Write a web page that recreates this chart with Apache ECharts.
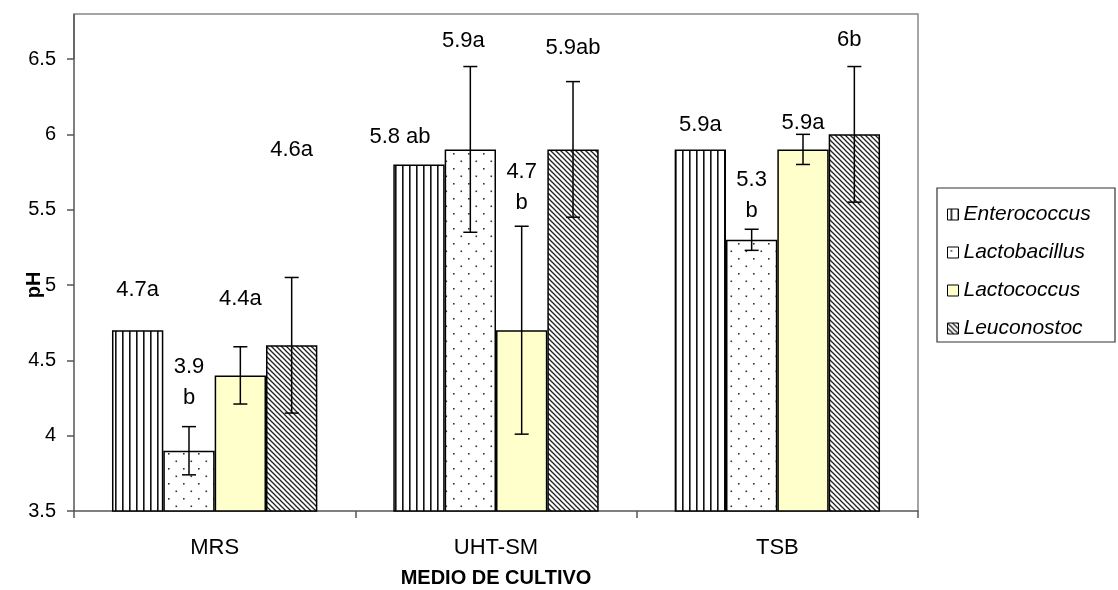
<!DOCTYPE html>
<html>
<head>
<meta charset="utf-8">
<script src="https://cdn.jsdelivr.net/npm/echarts@6/dist/echarts.min.js"></script>
<style>
  html, body { margin: 0; padding: 0; background: #fff; }
  #chart { width: 1118px; height: 590px; }
</style>
</head>
<body>
<div id="chart"></div>
<script>
// Culture media on the category axis
const categories = ['MRS', 'UHT-SM', 'TSB'];
const seriesNames = ['Enterococcus', 'Lactobacillus', 'Lactococcus', 'Leuconostoc'];

// Mean pH per genus and medium
const enterococcus  = [4.7, 5.8, 5.9];
const lactobacillus = [3.9, 5.9, 5.3];
const lactococcus   = [4.4, 4.7, 5.9];
const leuconostoc   = [4.6, 5.9, 6.0];

// Standard deviations (Enterococcus has none)
const errEnterococcus  = [null, null, null];
const errLactobacillus = [0.16, 0.55, 0.07];
const errLactococcus   = [0.19, 0.69, 0.10];
const errLeuconostoc   = [0.45, 0.45, 0.45];

// Significance letters appended to each mean
const letEnterococcus  = ['a', ' ab', 'a'];
const letLactobacillus = ['\nb', 'a', '\nb'];
const letLactococcus   = ['a', '\nb', 'a'];
const letLeuconostoc   = ['a', 'ab', 'b'];

// y axis range
const yMin = 3.5, yMax = 6.5, yStep = 0.5;

// label placement: px from the top of the whisker (or bar) to the last text line centre
const labelRise = [[40, 28, 24], [29, 26, 18], [48, 23, 11], [128, 34, 27]];
const labelShift = [[0, -19, 0], [0, -7, 0], [0, 0, 0], [0, 0, -5]];

const means = [enterococcus, lactobacillus, lactococcus, leuconostoc];
const errs = [errEnterococcus, errLactobacillus, errLactococcus, errLeuconostoc];
const letters = [letEnterococcus, letLactobacillus, letLactococcus, letLeuconostoc];

function makeTile(w, h, draw) {
  const c = document.createElement('canvas');
  c.width = w; c.height = h;
  const g = c.getContext('2d');
  draw(g, w, h);
  return { image: c, repeat: 'repeat' };
}
// vertical stripes
const fillStripes = makeTile(7, 7, (g, w, h) => {
  g.fillStyle = '#fff'; g.fillRect(0, 0, w, h);
  g.fillStyle = '#111'; g.fillRect(3, 0, 1.6, h);
});
// sparse staggered dots
const fillDots = makeTile(15, 15, (g, w, h) => {
  g.fillStyle = '#fff'; g.fillRect(0, 0, w, h);
  g.fillStyle = '#333';
  g.fillRect(3, 3, 1.6, 1.6);
  g.fillRect(10.5, 10.5, 1.6, 1.6);
});
// plain pale yellow
const fillYellow = '#ffffcc';
// dense back-diagonal hatch
const fillHatch = makeTile(5, 5, (g, w, h) => {
  g.fillStyle = '#fff'; g.fillRect(0, 0, w, h);
  g.strokeStyle = '#222'; g.lineWidth = 1.3;
  for (const o of [-5, 0, 5]) {
    g.beginPath(); g.moveTo(o - 1, -1); g.lineTo(o + 6, 6); g.stroke();
  }
});
const fills = [fillStripes, fillDots, fillYellow, fillHatch];

const FONT = 'Liberation Sans, Arial, sans-serif';
const GAP = 0.27;

const barSeries = seriesNames.map((name, k) => ({
  name: name,
  type: 'bar',
  barGap: '0%',
  barCategoryGap: (GAP * 100) + '%',
  data: means[k],
  itemStyle: { color: fills[k], borderColor: '#000', borderWidth: 1.5 },
  emphasis: { disabled: true },
  z: 2
}));

const whiskerSeries = seriesNames.map((name, k) => ({
  type: 'custom',
  name: name + ' sd',
  z: 5,
  silent: true,
  data: categories.map((c, i) => [i, means[k][i], errs[k][i] == null ? 0 : errs[k][i], i]),
  renderItem: function (params, api) {
    const i = api.value(0);
    const m = api.value(1);
    const e = api.value(2);
    const catW = api.size([1, 0])[0];
    const barW = catW * (1 - GAP) / 4;
    const base = api.coord([i, m]);
    const cx = base[0] + (k - 1.5) * barW;
    const children = [];
    let anchor = base[1];
    if (e > 0) {
      const top = api.coord([i, m + e])[1];
      const bot = api.coord([i, m - e])[1];
      const ls = { stroke: '#000', lineWidth: 1.5 };
      children.push({ type: 'line', shape: { x1: cx, y1: top, x2: cx, y2: bot }, style: ls });
      children.push({ type: 'line', shape: { x1: cx - 7, y1: top, x2: cx + 7, y2: top }, style: ls });
      children.push({ type: 'line', shape: { x1: cx - 7, y1: bot, x2: cx + 7, y2: bot }, style: ls });
      anchor = top;
    }
    const txt = String(m) + letters[k][i];
    const lh = txt.indexOf('\n') >= 0 ? 31 : 24;
    children.push({
      type: 'text',
      style: {
        text: txt,
        x: cx + labelShift[k][i],
        y: anchor - labelRise[k][i] + lh / 2,
        fill: '#000',
        fontSize: 22,
        fontFamily: FONT,
        align: 'center',
        verticalAlign: 'bottom',
        lineHeight: lh
      }
    });
    return { type: 'group', children: children };
  }
}));

const chart = echarts.init(document.getElementById('chart'), null, { renderer: 'canvas' });
chart.setOption({
  animation: false,
  backgroundColor: '#fff',
  textStyle: { fontFamily: FONT },
  grid: { left: 74, right: 200, top: 59, bottom: 79, containLabel: false, outerBoundsMode: 'none' },
  legend: {
    orient: 'vertical',
    left: 942,
    top: 199,
    itemWidth: 11,
    itemHeight: 11,
    itemGap: 17,
    icon: 'rect',
    data: seriesNames,
    selectedMode: false,
    textStyle: { fontSize: 21, fontStyle: 'italic', color: '#000', fontFamily: FONT, lineHeight: 21, padding: [0, 0, 0, 0] },
    itemStyle: { borderColor: '#000', borderWidth: 1 }
  },
  xAxis: {
    type: 'category',
    data: categories,
    axisLine: { lineStyle: { color: '#555', width: 1.5 } },
    axisTick: { show: true, length: 7, alignWithLabel: false, lineStyle: { color: '#555', width: 1.5 } },
    axisLabel: { fontSize: 22, color: '#000', margin: 26, fontFamily: FONT },
    name: 'MEDIO DE CULTIVO',
    nameLocation: 'middle',
    nameGap: 57,
    nameMoveOverlap: false,
    nameTextStyle: { fontSize: 20, fontWeight: 'bold', color: '#000', fontFamily: FONT }
  },
  yAxis: {
    type: 'value',
    min: yMin,
    max: yMax,
    interval: yStep,
    splitLine: { show: false },
    axisLine: { show: true, lineStyle: { color: '#555', width: 1.5 } },
    axisTick: { show: true, length: 7, lineStyle: { color: '#555', width: 1.5 } },
    axisLabel: { fontSize: 20, color: '#000', margin: 18, fontFamily: FONT },
    name: 'pH',
    nameLocation: 'middle',
    nameRotate: 90,
    nameGap: 30,
    nameMoveOverlap: false,
    nameTextStyle: { fontSize: 20, fontWeight: 'bold', color: '#000', fontFamily: FONT }
  },
  graphic: [
    // plot frame above and to the right of the axes
    { type: 'polyline', z: 0, silent: true,
      shape: { points: [[74, 59], [74, 14], [918, 14], [918, 511]] },
      style: { stroke: '#888', lineWidth: 1.5, fill: null } },
    { type: 'line', z: 1, silent: true,
      shape: { x1: 74, y1: 14, x2: 74, y2: 59 },
      style: { stroke: '#555', lineWidth: 1.5 } },
    // legend box
    { type: 'rect', z: 0, silent: true,
      shape: { x: 937, y: 188, width: 178, height: 154 },
      style: { stroke: '#333', lineWidth: 1.2, fill: '#fff' } }
  ],
  series: barSeries.concat(whiskerSeries)
});
</script>
</body>
</html>
